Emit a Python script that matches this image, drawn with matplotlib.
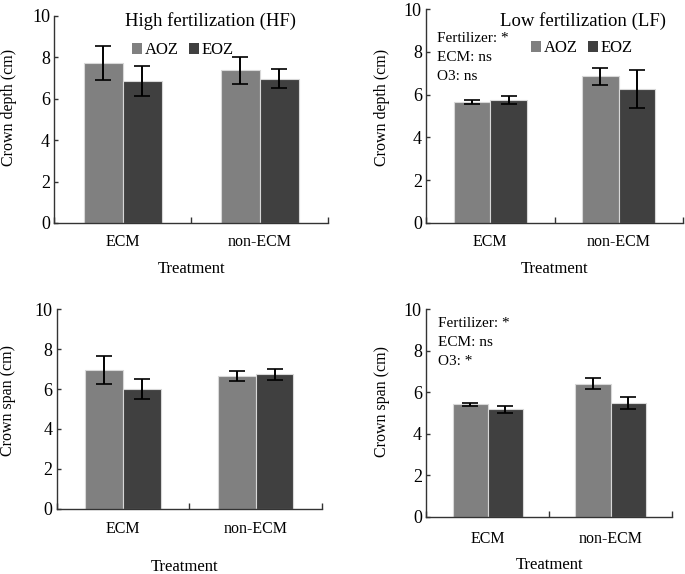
import numpy as np
import matplotlib.pyplot as plt
from matplotlib.patches import Patch

plt.rcParams['font.family'] = ['Liberation Serif', 'DejaVu Serif']

categories = ["ECM", "non-ECM"]
groups = ["AOZ", "EOZ"]

# crown depth, high fertilization
hf_depth_aoz = [7.72, 7.36]
hf_depth_aoz_err = [0.80, 0.63]
hf_depth_eoz = [6.87, 6.96]
hf_depth_eoz_err = [0.73, 0.46]

# crown depth, low fertilization
lf_depth_aoz = [5.67, 6.86]
lf_depth_aoz_err = [0.09, 0.40]
lf_depth_eoz = [5.75, 6.25]
lf_depth_eoz_err = [0.20, 0.89]

# crown span, high fertilization
hf_span_aoz = [6.96, 6.63]
hf_span_aoz_err = [0.71, 0.25]
hf_span_eoz = [5.99, 6.73]
hf_span_eoz_err = [0.49, 0.26]

# crown span, low fertilization
lf_span_aoz = [5.42, 6.41]
lf_span_aoz_err = [0.07, 0.27]
lf_span_eoz = [5.18, 5.48]
lf_span_eoz_err = [0.17, 0.29]

c_aoz = "#808080"
c_eoz = "#404040"

fig = plt.figure(figsize=(6.85, 5.74), dpi=100)

panels = [
    # rect, data, ylabel, ylabel pos, xlabel pos, tick pad
    ([0.079, 0.6115, 0.400, 0.361], (hf_depth_aoz, hf_depth_aoz_err, hf_depth_eoz, hf_depth_eoz_err),
     "Crown depth (cm)", (-0.135, 0.56), (0.5, -0.183), 8),
    ([0.622, 0.6115, 0.375, 0.3725], (lf_depth_aoz, lf_depth_aoz_err, lf_depth_eoz, lf_depth_eoz_err),
     "Crown depth (cm)", (-0.140, 0.54), (0.5, -0.178), 8),
    ([0.083, 0.1138, 0.387, 0.3474], (hf_span_aoz, hf_span_aoz_err, hf_span_eoz, hf_span_eoz_err),
     "Crown span (cm)", (-0.155, 0.54), (0.48, -0.252), 9),
    ([0.622, 0.0998, 0.359, 0.3614], (lf_span_aoz, lf_span_aoz_err, lf_span_eoz, lf_span_eoz_err),
     "Crown span (cm)", (-0.146, 0.553), (0.504, -0.194), 10),
]

axes = []
for rect, data, ylab, ylpos, xlpos, xpad in panels:
    ax = fig.add_axes(rect)
    aoz, aoz_err, eoz, eoz_err = data
    x = np.arange(len(categories))
    w = 0.285
    ax.bar(x - w / 2, aoz, w, color=c_aoz, edgecolor="#d8d8d8", linewidth=0.8,
           yerr=aoz_err, error_kw=dict(ecolor="black", elinewidth=1.4, capsize=6, capthick=1.2))
    ax.bar(x + w / 2, eoz, w, color=c_eoz, edgecolor="#d8d8d8", linewidth=0.8,
           yerr=eoz_err, error_kw=dict(ecolor="black", elinewidth=1.4, capsize=6, capthick=1.2))
    ax.set_xlim(-0.5, 1.5)
    ax.set_ylim(0, 10)
    ax.set_yticks([0, 2, 4, 6, 8, 10])
    ax.set_xticks(x)
    ax.set_xticklabels(categories)
    ax.set_xticks([-0.5, 0.5, 1.5], minor=True)
    ax.tick_params(axis="x", which="major", length=0, pad=xpad, labelsize=11.5)
    ax.tick_params(axis="x", which="minor", direction="in", length=4, width=1, color="#333333")
    ax.tick_params(axis="y", direction="in", length=3, width=1, color="#333333", labelsize=13, pad=3)
    for s in ["top", "right"]:
        ax.spines[s].set_visible(False)
    for s in ["left", "bottom"]:
        ax.spines[s].set_color("#333333")
        ax.spines[s].set_linewidth(1.0)
    ax.set_ylabel(ylab, fontsize=11.5)
    ax.yaxis.set_label_coords(*ylpos)
    ax.set_xlabel("Treatment", fontsize=12)
    ax.xaxis.set_label_coords(*xlpos)
    axes.append(ax)

ax1, ax2, ax3, ax4 = axes

ax1.text(0.569, 0.974, "High fertilization (HF)", transform=ax1.transAxes,
         ha="center", va="center", fontsize=13.5)
ax2.text(0.611, 0.945, "Low fertilization (LF)", transform=ax2.transAxes,
         ha="center", va="center", fontsize=13.5)

handles = [Patch(facecolor=c_aoz, edgecolor="none"), Patch(facecolor=c_eoz, edgecolor="none")]
for ax, pos in [(ax1, (0.47, 0.834)), (ax2, (0.607, 0.818))]:
    ax.legend(handles, groups, loc="center", bbox_to_anchor=pos, ncol=2, frameon=False,
              fontsize=12, handlelength=0.6, handleheight=0.6, handletextpad=0.15,
              columnspacing=0.6, borderpad=0)

ax2.text(0.043, 0.892, "Fertilizer: *\nECM: ns\nO3: ns", transform=ax2.transAxes,
         ha="left", va="top", fontsize=11, linespacing=1.6)

ax4.text(0.049, 0.962, "Fertilizer: *\nECM: ns\nO3: *", transform=ax4.transAxes,
         ha="left", va="top", fontsize=11, linespacing=1.6)

fig.savefig("out.png", dpi=100)
